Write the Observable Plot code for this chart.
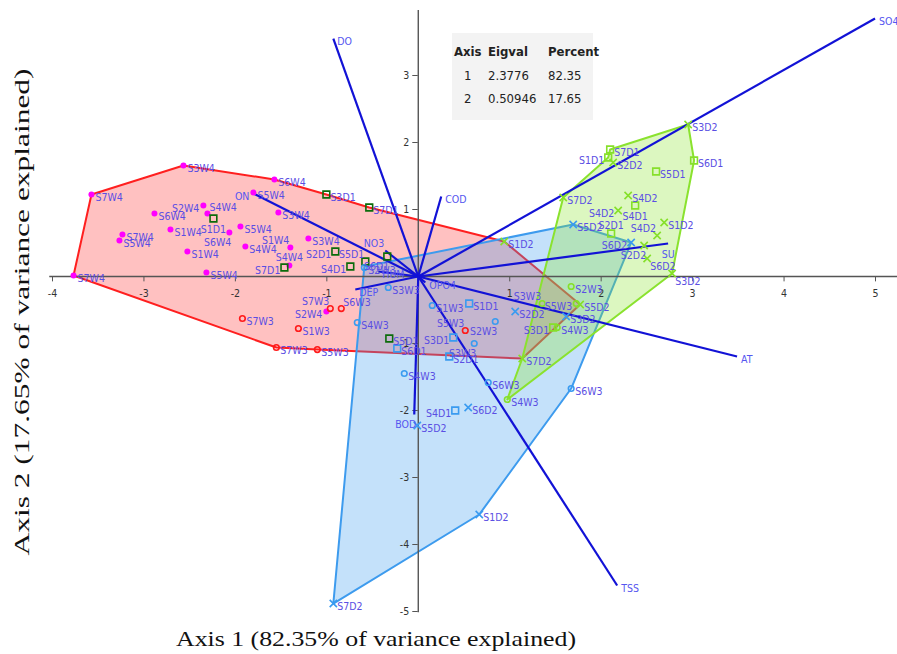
<!DOCTYPE html>
<html><head><meta charset="utf-8">
<script src="https://cdn.jsdelivr.net/npm/d3@7"></script>
<script src="https://cdn.jsdelivr.net/npm/@observablehq/plot@0.6"></script>
<style>
body{margin:0;background:#fff;}
#chart{position:relative;width:897px;height:654px;overflow:hidden;}
#tbl{position:absolute;left:452px;top:33px;width:141px;height:87px;background:#f3f3f3;font-family:"Liberation Sans Narrow","DejaVu Sans Condensed",sans-serif;font-size:13px;color:#222;}
#tbl span{position:absolute;line-height:16px;white-space:nowrap;}
#tbl .h{font-weight:bold;}
</style></head><body><div id="chart"><div id="tbl"></div></div>
<script>
// ---- data ----
const xTicks = [-4, -3, -2, -1, 1, 2, 3, 4, 5];
const yTicks = [-5, -4, -3, -2, -1, 1, 2, 3];
const xTitle = "Axis 1 (82.35% of variance explained)";
const yTitle = "Axis 2 (17.65% of variance explained)";

const tableHeader = ["Axis", "Eigval", "Percent"];
const tableAxis = ["1", "2"];
const tableEigval = ["2.3776", "0.50946"];
const tablePercent = ["82.35", "17.65"];

const vectorNames = ["SO4", "DO", "COD", "ON", "NO3", "HUM", "DEP", "OPO4", "SU", "AT", "TSS", "BOD"];
const vectorX = [4.995, -0.929, 0.251, -1.803, -0.361, -0.437, -0.689, 0.077, 2.732, 3.486, 2.175, -0.044];
const vectorY = [3.851, 3.552, 1.194, 1.239, 0.388, 0.075, -0.194, -0.090, 0.493, -1.194, -4.612, -2.060];
const vectorSides = ["r", "r", "r", "l", "ul", "r", "r", "r", "b", "r", "r", "bl"];

// [label, marker, axis1, axis2]
const redPts = [
  ["S3W4","dot",-2.568,1.657],["S7W4","dot",-3.574,1.224],["S6W4","dot",-1.574,1.448],
  ["S5W4","dot",-1.803,1.254],["S2W4","dot",-2.350,1.060],["S4W4","dot",-2.306,0.940],
  ["S6W4","dot",-2.885,0.940],["S1D1","square",-2.240,0.866],["S7W4","dot",-3.235,0.627],
  ["S5W4","dot",-3.268,0.537],["S1W4","dot",-2.710,0.701],["S6W4","dot",-2.066,0.657],
  ["S5W4","dot",-1.945,0.746],["S1W4","dot",-2.525,0.373],["S4W4","dot",-1.891,0.448],
  ["S5W4","dot",-2.317,0.060],["S1W4","dot",-1.399,0.433],["S4W4","dot",-1.410,0.164],
  ["S7D1","square",-1.464,0.134],["S3W4","dot",-1.202,0.567],["S7W4","dot",-3.770,0.015],
  ["S3W4","dot",-1.530,0.955],["S3D1","square",-1.005,1.224],["S7D1","square",-0.536,1.030],
  ["S2D1","square",-0.907,0.373],["S4D1","square",-0.743,0.149],["S5D1","square",-0.579,0.224],
  ["S6D1","square",-0.339,0.299],["S7W3","circle",-0.962,-0.478],["S2W4","dot",-1.005,-0.522],
  ["S6W3","circle",-0.842,-0.478],["S7W3","circle",-1.923,-0.627],["S1W3","circle",-1.311,-0.776],
  ["S7W3","circle",-1.552,-1.060],["S5W3","circle",-1.104,-1.090],["S5W3","circle",0.514,-0.806],
  ["S5D1","square",-0.317,-0.925]
];
const redSides = ["r","r","r","r","l","ur","r","b","r","r","r","bl","r","r","r","r","ul","t","l","r","r","r","r","r","l","l","ul","bl","ul","l","ur","r","r","r","r","ul","r"];

const bluePts = [
  ["S2W3","circle",-0.590,0.134],["S3W3","circle",-0.328,-0.164],["S4W3","circle",-0.667,-0.687],
  ["S6D1","square",-0.230,-1.075],["S4W3","circle",-0.153,-1.448],["S1W3","circle",0.153,-0.433],
  ["S1D1","square",0.557,-0.403],["S2W3","circle",0.842,-0.672],["S3D1","square",0.383,-0.910],
  ["S3W3","circle",0.612,-1.000],["S2D1","square",0.339,-1.194],["S2D2","cross",1.060,-0.522],
  ["S3D2","cross",1.617,-0.597],["S6W3","circle",0.765,-1.582],["S4D1","square",0.404,-2.000],
  ["S6D2","cross",0.546,-1.955],["S5D2","cross",-0.011,-2.224],["S6W3","circle",1.672,-1.672],
  ["S1D2","cross",0.667,-3.552],["S7D2","cross",-0.929,-4.881],["S5D2","cross",1.694,0.776],
  ["S6D2","cross",2.328,0.507]
];
const blueSides = ["r","r","r","r","r","r","r","bl","l","bl","r","r","r","r","l","r","r","r","r","r","r","l"];

const greenPts = [
  ["S1D2","cross",0.940,0.522],["S3W3","circle",1.355,-0.403],["S5W3","circle",1.727,-0.403],
  ["S5D2","cross",1.770,-0.418],["S3D1","square",1.475,-0.761],["S4W3","circle",1.519,-0.761],
  ["S7D2","cross",1.137,-1.224],["S2W3","circle",1.672,-0.149],["S4W3","circle",0.973,-1.836],
  ["S3D2","cross",2.951,2.269],["S6D1","square",3.016,1.731],["S7D1","square",2.098,1.896],
  ["S1D1","square",2.077,1.776],["S2D2","cross",2.131,1.701],["S5D1","square",2.601,1.567],
  ["S7D2","cross",1.585,1.179],["S4D2","cross",2.295,1.209],["S4D2","cross",2.186,0.985],
  ["S4D1","square",2.372,1.060],["S1D2","cross",2.689,0.806],["S4D2","cross",2.612,0.612],
  ["S2D1","square",2.109,0.642],["S2D2","cross",2.470,0.463],["S6D2","cross",2.503,0.269],
  ["S3D2","cross",2.776,0.045]
];
const greenSides = ["r","ul","l","r","l","r","r","r","r","r","r","r","l","r","r","r","r","l","b","r","ul","t","bl","br","br"];

const hullRed = [[-3.574,1.224],[-2.568,1.657],[-1.574,1.448],[-1.005,1.224],[-0.536,1.030],[0.940,0.522],[1.770,-0.418],[1.137,-1.224],[-1.104,-1.090],[-1.552,-1.060],[-3.770,0.015]];
const hullBlue = [[-0.590,0.149],[1.694,0.776],[2.328,0.507],[1.672,-1.672],[0.667,-3.552],[-0.929,-4.881]];
const hullGreen = [[1.585,1.179],[2.077,1.776],[2.098,1.896],[2.951,2.269],[3.016,1.731],[2.776,0.045],[0.973,-1.836],[1.137,-1.224]];

// ---- build ----
const rows = (arr, sides, group) => arr.map((d, i) => ({name: d[0], marker: d[1], x: d[2], y: d[3], side: sides[i], group}));
const pts = [...rows(redPts, redSides, "red"), ...rows(bluePts, blueSides, "blue"), ...rows(greenPts, greenSides, "green")];
const vecs = vectorNames.map((n, i) => ({name: n, x: vectorX[i], y: vectorY[i], side: vectorSides[i]}));

const sideOff = {r:[4,3,"start"], l:[-4,3,"end"], ur:[2,-6,"start"], ul:[-1,-7,"end"], br:[3,8,"start"], bl:[2,10,"end"], t:[0,-8,"middle"], b:[0,11,"middle"]};
const labelFont = "Liberation Sans Narrow, DejaVu Sans Condensed, sans-serif";
const tickFont = "DejaVu Sans Condensed, Liberation Sans Narrow, sans-serif";

const styleFor = {
  red: {dot: {fill: "#ff00ff"}, circle: {stroke: "#ff1a1a"}, square: {stroke: "#0b6b0b"}},
  blue: {dot: {fill: "#3a9bf0"}, circle: {stroke: "#3a9bf0"}, square: {stroke: "#3a9bf0"}, cross: {stroke: "#3a9bf0"}},
  green: {dot: {fill: "#86e02a"}, circle: {stroke: "#86e02a"}, square: {stroke: "#86e02a"}, cross: {stroke: "#86e02a"}}
};
const symbolFor = {dot: "circle", circle: "circle", square: "square", cross: "times"};
const rFor = {dot: 3, circle: 2.8, square: 3.8, cross: 3.4};

const hullMark = (h, stroke, fill) => Plot.line(h, {x: d => d[0], y: d => d[1], curve: "linear-closed", stroke, strokeWidth: 2, fill, fillOpacity: 0.3});

const marks = [
  hullMark(hullRed, "#ff1f1f", "#ff3333"),
  hullMark(hullBlue, "#3d9bee", "#3d9bf0"),
  hullMark(hullGreen, "#8ae22e", "#8ae62e"),
  Plot.ruleY([0], {x1: -4.03, x2: 5.3, stroke: "#555", strokeWidth: 1.4}),
  Plot.ruleX([0], {y1: -5.02, y2: 3.97, stroke: "#555", strokeWidth: 1.4}),
  Plot.ruleX(xTicks, {x: d => d, y1: 0, y2: -0.08, stroke: "#555"}),
  Plot.ruleY(yTicks, {y: d => d, x1: -0.06, x2: 0, stroke: "#555"}),
  Plot.text(xTicks, {x: d => d, y: 0, dy: 17, text: d => String(d), fontSize: 10.5, fontFamily: tickFont, fill: "#333"}),
  Plot.text(yTicks, {x: 0, y: d => d, dx: -9, text: d => String(d), textAnchor: "end", fontSize: 10.5, fontFamily: tickFont, fill: "#333"}),
  Plot.link(vecs, {x1: 0, y1: 0, x2: "x", y2: "y", stroke: "#1212d6", strokeWidth: 2.2})
];

for (const g of ["red", "blue", "green"]) {
  for (const m of Object.keys(styleFor[g])) {
    const sub = pts.filter(d => d.group === g && d.marker === m);
    if (!sub.length) continue;
    const st = styleFor[g][m];
    marks.push(Plot.dot(sub, {x: "x", y: "y", r: rFor[m], symbol: symbolFor[m],
      fill: st.fill || "none", stroke: st.stroke || "none", strokeWidth: 1.6}));
  }
}
for (const s of Object.keys(sideOff)) {
  const [dx, dy, anchor] = sideOff[s];
  const sub = pts.filter(d => d.side === s);
  if (sub.length) marks.push(Plot.text(sub, {x: "x", y: "y", text: "name", dx, dy, textAnchor: anchor, fontSize: 10.5, fontFamily: labelFont, fill: "#5a4ee3"}));
  const vs = vecs.filter(d => d.side === s);
  if (vs.length) marks.push(Plot.text(vs, {x: "x", y: "y", text: "name", dx, dy, textAnchor: anchor, fontSize: 10.5, fontFamily: labelFont, fill: "#5656f0"}));
}
marks.push(Plot.text([xTitle], {frameAnchor: "bottom", dx: -88, dy: 28, textAnchor: "middle", lineAnchor: "middle", text: d => d, fontSize: 21, fontFamily: "Liberation Serif, Times New Roman, serif", fill: "#111"}));
marks.push(Plot.text([yTitle], {frameAnchor: "left", dx: -30, dy: 2, textAnchor: "middle", lineAnchor: "middle", rotate: -90, text: d => d, fontSize: 21, fontFamily: "Liberation Serif, Times New Roman, serif", fill: "#111"}));

const plot = Plot.plot({
  width: 897, height: 654,
  marginLeft: 52, marginRight: 22, marginTop: 8, marginBottom: 43,
  x: {domain: [-4, 5], axis: null},
  y: {domain: [-5, 4], axis: null},
  style: {background: "white", overflow: "visible"},
  marks
});
for (const t of plot.querySelectorAll("text")) {
  if (t.textContent === xTitle) { t.setAttribute("textLength", 400); t.setAttribute("lengthAdjust", "spacingAndGlyphs"); }
  if (t.textContent === yTitle) { t.setAttribute("textLength", 487); t.setAttribute("lengthAdjust", "spacingAndGlyphs"); }
}
const chart = document.getElementById("chart");
chart.insertBefore(plot, chart.firstChild);

// table
const tbl = document.getElementById("tbl");
const cols = [2, 36, 96];
const add = (txt, x, y, cls) => { const s = document.createElement("span"); s.textContent = txt; s.style.left = x + "px"; s.style.top = y + "px"; if (cls) s.className = cls; tbl.appendChild(s); };
tableHeader.forEach((h, i) => add(h, cols[i], 11, "h"));
tableAxis.forEach((a, j) => {
  const y = 35 + j * 23;
  add(a, 12, y);
  add(tableEigval[j], cols[1], y);
  add(tablePercent[j], cols[2], y);
});
</script></body></html>
